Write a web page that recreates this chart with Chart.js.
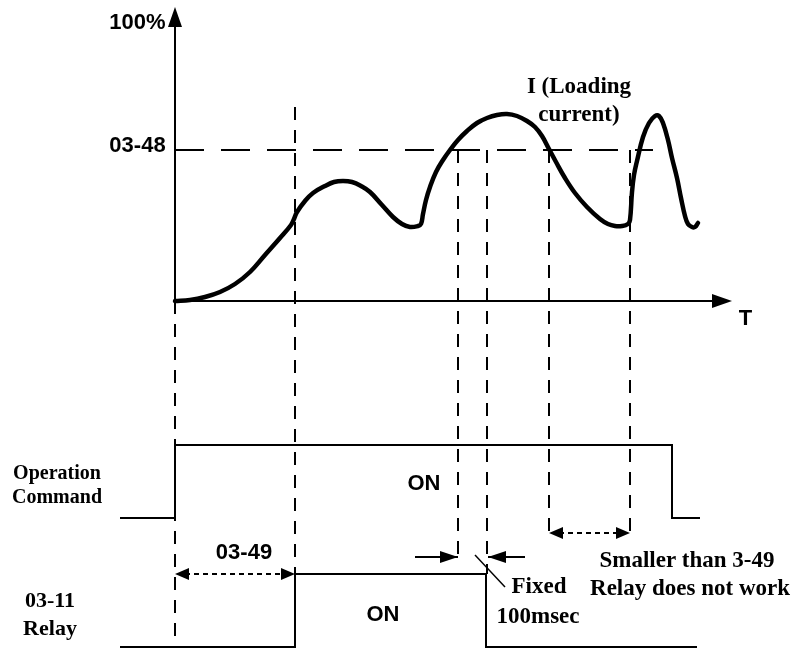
<!DOCTYPE html>
<html><head><meta charset="utf-8">
<script src="https://cdn.jsdelivr.net/npm/chart.js@4/dist/chart.umd.min.js"></script>
<style>html,body{margin:0;padding:0;background:#fff}#wrap{width:794px;height:648px;position:relative}</style>
</head><body><div id="wrap"><canvas id="c"></canvas></div>
<script>
// ===== DATA (time units from origin, level units above the T axis) =====
const curveTime = [0,15,30,45,60,75,90,105,116,119,122,130,138,150,159,168,177,186,195,207,218,227,235,243,246,248,251,255,261,268,275,283,292,302,312,322,332,342,352,360,367,374,381,390,400,412,425,433,440,447,453,455,457,459,462,468,474,480,484,488,493,497,502,506,510,513,517,520,523];
const curveLoad = [0,1,4,9,17,29,46,63,76,82,89,100,108,115,119,120,119,115,109,96,84,77,74,75,77,87,101,114,129,141,151,161,170,178,183,186,187,185,180,174,165,152,139,123,108,94,82,77,75,75,77,81,109,126,140,164,178,185,185,178,161,143,123,103,85,77,74,74,78];
const level0348 = 151;          // 03-48 threshold
const level100 = 294;           // 100% (top of the current axis)
const timeAxisEnd = 557;        // end of T axis
const opCmdTime = [-55, 0, 497, 525];
const opCmdState = [0, 1, 0, 0];
const relayTime = [-55, 120, 311, 522];
const relayState = [0, 1, 0, 0];
const markerTime = [0, 120, 283, 312, 374, 455];
const markerTop = [0, 194, 151, 151, 151, 151];
const markerBottom = [-347, -347, -262, -273, -232, -232];
const spanStart = [0, 374];
const spanEnd = [120, 455];
const spanLevel = [-273, -232];
const fixedArrowFrom = [240, 350];
const fixedArrowTo = [283, 313];
const fixedArrowLevel = -256;
const labelTexts = ['100%','03-48','T','I (Loading','current)','Operation','Command','03-11','Relay','03-49','ON','ON','Fixed','100msec','Smaller than 3-49','Relay does not work'];

// ===== LAYOUT / STYLE =====
const opLevels = [-217, -144];
const relayLevels = [-346, -273];
const SANS = 'bold 22px "Liberation Sans", Arial, sans-serif';
const SERIF = 'bold 23px "Liberation Serif", "Times New Roman", serif';
const SERIF20 = 'bold 20px "Liberation Serif", "Times New Roman", serif';
const SERIF22 = 'bold 22px "Liberation Serif", "Times New Roman", serif';
const labelPos = [
  [-37.5,272,SANS],[-37.5,149,SANS],[570.5,-24,SANS],[404,208,SERIF],[404,180,SERIF],
  [-118,-178,SERIF20],[-118,-202,SERIF20],[-125,-306,SERIF22],[-125,-334,SERIF22],
  [69,-258,SANS],[249,-189,SANS],[208,-320,SANS],[364,-292,SERIF],[363,-322,SERIF],
  [512,-266,SERIF],[515,-294,SERIF]
];

const pts = (xs, ys) => xs.map((v,i)=>({x:v, y:ys[i]}));
const base = {showLine:true, pointRadius:0, borderColor:'#000', fill:false};
const datasets = [];
// current curve
datasets.push({...base, data: pts(curveTime, curveLoad), borderWidth:4.5, tension:0.4, borderCapStyle:'round', borderJoinStyle:'round', order:0});
// axes
datasets.push({...base, data:[{x:0,y:0},{x:0,y:level100-12}], borderWidth:2});
datasets.push({...base, data:[{x:0,y:0},{x:timeAxisEnd-12,y:0}], borderWidth:2});
// threshold dashed
datasets.push({...base, data:[{x:0,y:level0348},{x:478,y:level0348}], borderWidth:2, borderDash:[29,17]});
// vertical markers
markerTime.forEach((t,i)=>datasets.push({...base, data:[{x:t,y:markerTop[i]},{x:t,y:markerBottom[i]}], borderWidth:2, borderDash:[13,10]}));
// digital signals
datasets.push({...base, data: pts(opCmdTime, opCmdState.map(s=>opLevels[s])), stepped:'before', borderWidth:2});
datasets.push({...base, data: pts(relayTime, relayState.map(s=>relayLevels[s])), stepped:'before', borderWidth:2});
// span arrows (dashed shafts)
spanStart.forEach((s,i)=>datasets.push({...base, data:[{x:s+10,y:spanLevel[i]},{x:spanEnd[i]-10,y:spanLevel[i]}], borderWidth:2, borderDash:[5,4]}));
// fixed 100msec arrows shafts
fixedArrowFrom.forEach((f,i)=>datasets.push({...base, data:[{x:f,y:fixedArrowLevel},{x:fixedArrowTo[i],y:fixedArrowLevel}], borderWidth:2}));
// leader line
datasets.push({...base, data:[{x:300,y:-254},{x:330,y:-286}], borderWidth:1.5});

const overlay = {
  id:'overlay',
  afterDatasetsDraw(chart){
    const {ctx, scales:{x, y}} = chart;
    const px = v=>x.getPixelForValue(v), py = v=>y.getPixelForValue(v);
    ctx.save();
    ctx.fillStyle = '#000';
    function head(tt, tl, dx, dy, len, hw){
      const tx = px(tt), ty = py(tl);
      const bx = tx - dx*len, by = ty - dy*len;
      ctx.beginPath();
      ctx.moveTo(tx, ty);
      ctx.lineTo(bx - dy*hw, by + dx*hw);
      ctx.lineTo(bx + dy*hw, by - dx*hw);
      ctx.closePath();
      ctx.fill();
    }
    head(0, level100, 0, -1, 20, 7);
    head(timeAxisEnd, 0, 1, 0, 20, 7);
    spanStart.forEach((s,i)=>{ head(s, spanLevel[i], -1, 0, 14, 6); head(spanEnd[i], spanLevel[i], 1, 0, 14, 6); });
    fixedArrowTo.forEach((t,i)=>{ head(t, fixedArrowLevel, t>fixedArrowFrom[i]?1:-1, 0, 18, 6); });
    ctx.textAlign = 'center';
    ctx.textBaseline = 'alphabetic';
    labelTexts.forEach((s,i)=>{
      const [t,l,f] = labelPos[i];
      ctx.font = f;
      ctx.fillText(s, px(t), py(l));
    });
    ctx.restore();
  }
};

new Chart(document.getElementById('c'), {
  type:'scatter',
  data:{datasets},
  options:{
    responsive:true, maintainAspectRatio:false, animation:false,
    layout:{padding:0},
    plugins:{legend:{display:false}, tooltip:{enabled:false}},
    scales:{
      x:{type:'linear', min:-175, max:619, display:false},
      y:{type:'linear', min:-347, max:301, display:false}
    }
  },
  plugins:[overlay]
});
</script></body></html>
